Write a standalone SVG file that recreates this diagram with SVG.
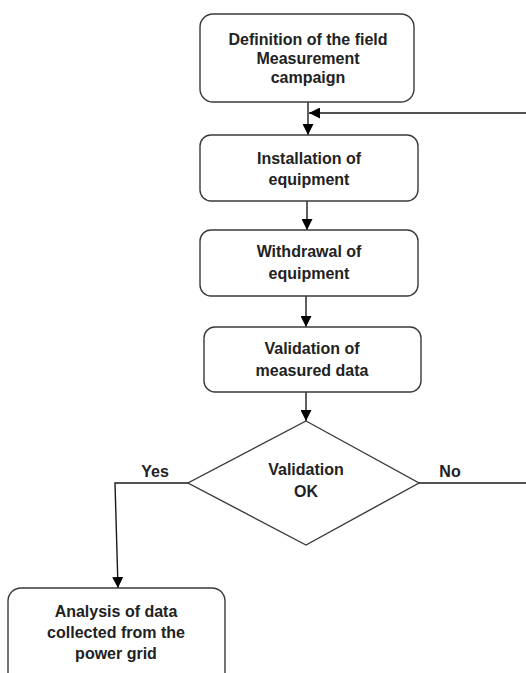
<svg xmlns="http://www.w3.org/2000/svg" width="526" height="673" viewBox="0 0 526 673">
  <style>
    .box { fill: #ffffff; stroke: #3a3a3a; stroke-width: 1.4; }
    .lbl { font-family: "Liberation Sans", Arial, sans-serif; font-weight: bold; font-size: 16px; fill: #222222; text-anchor: middle; }
    .edge { fill: none; stroke: #1a1a1a; stroke-width: 1.4; }
  </style>
  <defs>
    <marker id="arrow" viewBox="0 0 10 10" refX="10" refY="5" markerWidth="11" markerHeight="11" markerUnits="userSpaceOnUse" orient="auto">
      <path d="M0,0 L10,5 L0,10 Z" fill="#000000"/>
    </marker>
  </defs>
  <rect width="526" height="673" fill="#ffffff"/>

  <g id="connectors">
    <line class="edge" x1="308" y1="102" x2="308" y2="135" marker-end="url(#arrow)"/>
    <line class="edge" x1="526" y1="113" x2="309" y2="113" marker-end="url(#arrow)"/>
    <line class="edge" x1="307" y1="201" x2="307" y2="230" marker-end="url(#arrow)"/>
    <line class="edge" x1="306" y1="296" x2="306" y2="327" marker-end="url(#arrow)"/>
    <line class="edge" x1="306" y1="392" x2="306" y2="421" marker-end="url(#arrow)"/>
    <polyline class="edge" points="188,483 115,483 118,588" marker-end="url(#arrow)"/>
    <line class="edge" x1="419" y1="483" x2="526" y2="483"/>
  </g>

  <g id="n-definition">
    <rect class="box" x="200" y="14" width="214" height="88" rx="13"/>
    <text class="lbl" x="308" y="45">Definition of the field</text>
    <text class="lbl" x="308" y="64">Measurement</text>
    <text class="lbl" x="308" y="83">campaign</text>
  </g>

  <g id="n-installation">
    <rect class="box" x="200" y="135" width="218" height="66" rx="11"/>
    <text class="lbl" x="309" y="164">Installation of</text>
    <text class="lbl" x="309" y="185">equipment</text>
  </g>

  <g id="n-withdrawal">
    <rect class="box" x="200" y="230" width="218" height="66" rx="11"/>
    <text class="lbl" x="309" y="257">Withdrawal of</text>
    <text class="lbl" x="309" y="279">equipment</text>
  </g>

  <g id="n-validation-data">
    <rect class="box" x="204" y="327" width="217" height="65" rx="11"/>
    <text class="lbl" x="312" y="354">Validation of</text>
    <text class="lbl" x="312" y="376">measured data</text>
  </g>

  <g id="n-decision">
    <polygon class="box" points="306,421 419,483 306,545 188,483"/>
    <text class="lbl" x="306" y="475">Validation</text>
    <text class="lbl" x="306" y="497">OK</text>
  </g>

  <g id="edge-labels">
    <text class="lbl" x="155" y="477">Yes</text>
    <text class="lbl" x="450" y="477">No</text>
  </g>

  <g id="n-analysis">
    <rect class="box" x="8" y="588" width="217" height="100" rx="13"/>
    <text class="lbl" x="116" y="617">Analysis of data</text>
    <text class="lbl" x="116" y="638">collected from the</text>
    <text class="lbl" x="116" y="659">power grid</text>
  </g>
</svg>
